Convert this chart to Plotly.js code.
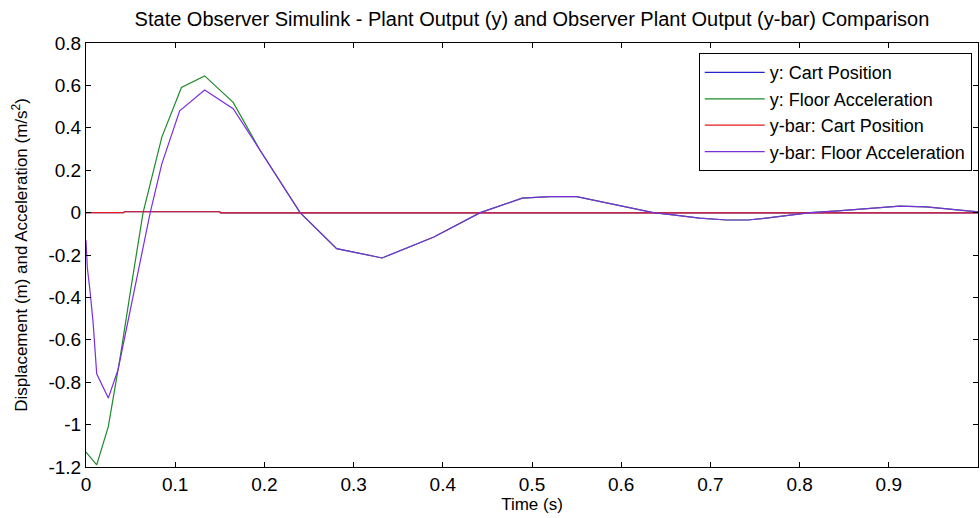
<!DOCTYPE html>
<html>
<head>
<meta charset="utf-8">
<script src="https://cdn.plot.ly/plotly-3.0.1.min.js"></script>
<style>html,body{margin:0;padding:0;background:#fff;}#chart{width:980px;height:518px;}</style>
</head>
<body>
<div id="chart"></div>
<script>
// ---- data ----
const seriesNames = ["y: Cart Position", "y: Floor Acceleration", "y-bar: Cart Position", "y-bar: Floor Acceleration"];

const tailTime = [0.281, 0.332, 0.39, 0.442, 0.489, 0.52, 0.55, 0.599, 0.636, 0.658, 0.688, 0.718, 0.742, 0.767, 0.793, 0.812, 0.843, 0.857, 0.882, 0.912, 0.942, 0.967, 0.99, 1.0];
const tailValue = [-0.17, -0.214, -0.115, 0.0, 0.068, 0.075, 0.075, 0.031, 0.0, -0.011, -0.026, -0.035, -0.035, -0.024, -0.011, 0.0, 0.008, 0.012, 0.021, 0.031, 0.027, 0.017, 0.005, 0.003];

const yAccelTimeHead = [0, 0.012, 0.025, 0.038, 0.051, 0.064, 0.085, 0.107, 0.133, 0.165, 0.195, 0.24];
const yAccelHead = [-1.13, -1.19, -1.01, -0.69, -0.34, 0.0, 0.356, 0.59, 0.645, 0.52, 0.295, 0.0];

const ybarAccelTimeHead = [0, 0.0015, 0.0045, 0.008, 0.012, 0.025, 0.036, 0.05, 0.072, 0.085, 0.105, 0.133, 0.165, 0.195, 0.24];
const ybarAccelHead = [-0.13, -0.26, -0.37, -0.52, -0.76, -0.875, -0.74, -0.45, 0.0, 0.23, 0.48, 0.578, 0.49, 0.295, 0.0];

const cartTime = [0, 0.042, 0.043, 0.15, 0.151, 1.0];
const yCart = [0, 0, 0.004, 0.004, -0.001, -0.001];
const ybarCart = [0, 0, 0.004, 0.004, -0.001, -0.001];

const xTickVals = [0, 0.1, 0.2, 0.3, 0.4, 0.5, 0.6, 0.7, 0.8, 0.9, 1];
const xTickText = ["0", "0.1", "0.2", "0.3", "0.4", "0.5", "0.6", "0.7", "0.8", "0.9", "1"];
const yTickVals = [0.8, 0.6, 0.4, 0.2, 0, -0.2, -0.4, -0.6, -0.8, -1, -1.2];
const yTickText = ["0.8", "0.6", "0.4", "0.2", "0", "-0.2", "-0.4", "-0.6", "-0.8", "-1", "-1.2"];

// ---- build traces ----
const yAccelTime = yAccelTimeHead.concat(tailTime);
const yAccel = yAccelHead.concat(tailValue);
const ybarAccelTime = ybarAccelTimeHead.concat(tailTime);
const ybarAccel = ybarAccelHead.concat(tailValue);

const colors = ["#2424d0", "#1e8a2a", "#e21a1a", "#7b2ee0"];
const traces = [
  {x: cartTime, y: yCart, name: seriesNames[0], mode: "lines", line: {color: colors[0], width: 1.2}},
  {x: yAccelTime, y: yAccel, name: seriesNames[1], mode: "lines", line: {color: colors[1], width: 1.2}},
  {x: cartTime, y: ybarCart, name: seriesNames[2], mode: "lines", line: {color: colors[2], width: 1.2}},
  {x: ybarAccelTime, y: ybarAccel, name: seriesNames[3], mode: "lines", line: {color: colors[3], width: 1.2}}
];

const fontFam = "Arial, 'Liberation Sans', sans-serif";
const layout = {
  width: 980, height: 518,
  margin: {l: 86, r: 2, t: 43, b: 51, pad: 0},
  paper_bgcolor: "#ffffff", plot_bgcolor: "#ffffff",
  font: {family: fontFam, color: "#000", size: 17},
  title: {text: "State Observer Simulink - Plant Output (y) and Observer Plant Output (y-bar) Comparison",
          font: {family: fontFam, size: 20, color: "#000"}, x: 0.5, xref: "paper", y: 1 - 19/518, yref: "container", yanchor: "middle"},
  showlegend: true,
  legend: {x: 0.993, xanchor: "right", y: 0.976, yanchor: "top", bgcolor: "#fff", bordercolor: "#000", borderwidth: 1,
           font: {family: fontFam, size: 18, color: "#000"}, tracegroupgap: 0, itemwidth: 60},
  xaxis: {range: [0, 1], tickvals: xTickVals, ticktext: xTickText, ticks: "inside", ticklen: 5, tickcolor: "#000",
          showline: true, linecolor: "#000", linewidth: 1, mirror: "ticks", showgrid: false, zeroline: false,
          tickfont: {family: fontFam, size: 19}, title: {text: "Time (s)", font: {family: fontFam, size: 17}, standoff: 0}},
  yaxis: {range: [-1.2, 0.8], tickvals: yTickVals, ticktext: yTickText, ticks: "inside", ticklen: 5, tickcolor: "#000",
          showline: true, linecolor: "#000", linewidth: 1, mirror: "ticks", showgrid: false, zeroline: false,
          tickfont: {family: fontFam, size: 19}, title: {text: "Displacement (m) and Acceleration (m/s<sup>2</sup>)", font: {family: fontFam, size: 17}, standoff: 16}}
};

Plotly.newPlot("chart", traces, layout, {displayModeBar: false, staticPlot: true});
</script>
</body>
</html>
